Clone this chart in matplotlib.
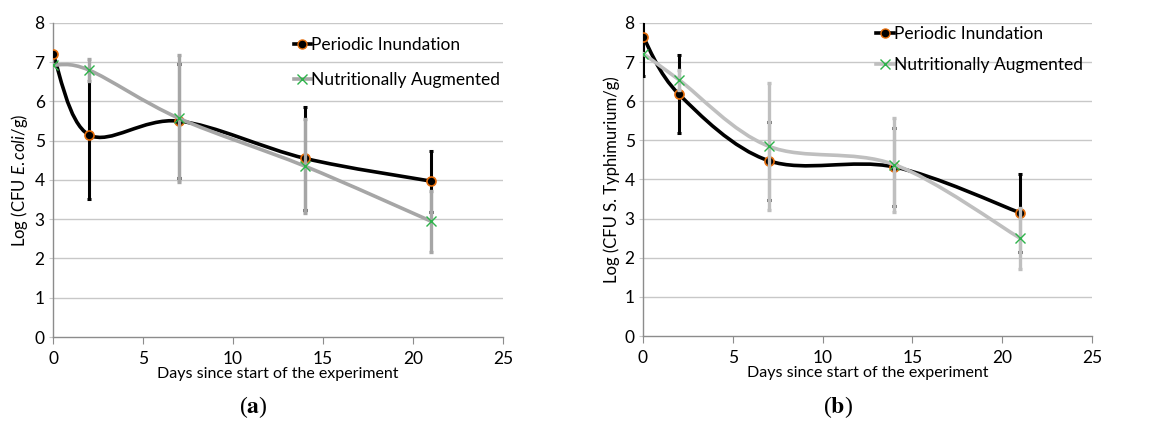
import numpy as np
import matplotlib
matplotlib.use("Agg")
import matplotlib.pyplot as plt
from matplotlib.path import Path
from matplotlib.patches import PathPatch
from matplotlib.lines import Line2D

plt.rcParams['font.family'] = ['Lato', 'DejaVu Sans']
plt.rcParams['mathtext.fontset'] = 'custom'
plt.rcParams['mathtext.rm'] = 'Lato'
plt.rcParams['mathtext.it'] = 'Lato:italic'

days = [0, 2, 7, 14, 21]

# panel (a) E. coli
ecoli_pi = [7.2, 5.15, 5.5, 4.55, 3.97]
ecoli_pi_err = [0.0, 1.63, 1.45, 1.32, 0.78]
ecoli_na = [6.93, 6.8, 5.57, 4.35, 2.95]
ecoli_na_err = [0.0, 0.27, 1.62, 1.2, 0.78]

# panel (b) S. Typhimurium
salm_pi = [7.65, 6.18, 4.48, 4.32, 3.15]
salm_pi_err = [1.0, 1.0, 1.0, 1.0, 1.0]
salm_na = [7.22, 6.55, 4.85, 4.38, 2.5]
salm_na_err = [0.0, 0.25, 1.62, 1.2, 0.78]

labels = ['Periodic Inundation', 'Nutritionally Augmented']


def smooth_path(x, y):
    # Excel-like smoothed line: Catmull-Rom converted to cubic Bezier
    pts = np.column_stack([x, y]).astype(float)
    ext = np.vstack([pts[0], pts, pts[-1]])
    verts = [pts[0]]
    codes = [Path.MOVETO]
    for i in range(len(pts) - 1):
        p0, p1, p2, p3 = ext[i], ext[i + 1], ext[i + 2], ext[i + 3]
        verts += [p1 + (p2 - p0) / 6, p2 - (p3 - p1) / 6, p2]
        codes += [Path.CURVE4] * 3
    return Path(verts, codes)


def draw_panel(ax, pi, pi_err, na, na_err, na_color, ylabel):
    for yv in range(1, 9):
        ax.axhline(yv, color='#C8C8C8', lw=1.0, zorder=0)

    ax.add_patch(PathPatch(smooth_path(days, pi), fill=False, edgecolor='black',
                           lw=2.6, zorder=2, capstyle='round'))
    ax.errorbar(days, pi, yerr=pi_err, fmt='none', ecolor='black', elinewidth=2.2,
                capsize=1.5, capthick=2.2, zorder=3)
    ax.plot(days, pi, 'o', ms=6.5, mfc='black', mec='#E46C0A', mew=1.2, zorder=4)

    ax.add_patch(PathPatch(smooth_path(days, na), fill=False, edgecolor=na_color,
                           lw=2.6, zorder=5, capstyle='round'))
    ax.errorbar(days, na, yerr=na_err, fmt='none', ecolor=na_color, elinewidth=2.4,
                capsize=1.5, capthick=2.4, zorder=6)
    ax.plot(days, na, 'x', ms=6.5, color='#2DB34A', mew=1.0, zorder=7)

    ax.set_xlim(0, 25)
    ax.set_ylim(0, 8)
    ax.set_xticks([0, 5, 10, 15, 20, 25])
    ax.set_yticks(range(0, 9))
    for s in ['top', 'right']:
        ax.spines[s].set_visible(False)
    for s in ['left', 'bottom']:
        ax.spines[s].set_color('#8C8C8C')
        ax.spines[s].set_linewidth(1.0)
    ax.tick_params(axis='x', direction='out', length=5, color='#8C8C8C', labelsize=12.5, pad=5)
    ax.tick_params(axis='y', direction='out', length=3, color='#C8C8C8', labelsize=12.5, pad=3)
    ax.set_xlabel('Days since start of the experiment', fontsize=11.5, labelpad=0)
    ax.set_ylabel(ylabel, fontsize=12, labelpad=3)

    handles = [
        Line2D([], [], color='black', lw=2.6, marker='o', ms=6.5, mfc='black', mec='#E46C0A'),
        Line2D([], [], color=na_color, lw=2.6, marker='x', ms=6.5, mec='#2DB34A', mew=1.0),
    ]
    return handles


fig = plt.figure(figsize=(11.6, 4.21), dpi=100)
ax1 = fig.add_axes([0.0457, 0.1995, 0.388, 0.746])
ax2 = fig.add_axes([0.5543, 0.2019, 0.387, 0.7435])

h1 = draw_panel(ax1, ecoli_pi, ecoli_pi_err, ecoli_na, ecoli_na_err, '#A6A6A6',
                r'Log (CFU $\mathit{E.coli}$/g)')
ax1.legend(h1, labels, loc='upper left', bbox_to_anchor=(0.535, 0.955), frameon=False,
           handlelength=1.0, handletextpad=0.0, labelspacing=1.1, fontsize=12.5,
           borderpad=0, borderaxespad=0)

h2 = draw_panel(ax2, salm_pi, salm_pi_err, salm_na, salm_na_err, '#BFBFBF',
                'Log (CFU S. Typhimurium/g)')
ax2.legend(h2, labels, loc='upper left', bbox_to_anchor=(0.52, 0.99), frameon=False,
           handlelength=1.0, handletextpad=0.0, labelspacing=0.85, fontsize=12.5,
           borderpad=0, borderaxespad=0)

fig.text(0.218, 0.033, r'($\mathbf{a}$)', fontsize=17, ha='center', va='center',
         family='Liberation Serif', math_fontfamily='stix')
fig.text(0.722, 0.033, r'($\mathbf{b}$)', fontsize=17, ha='center', va='center',
         family='Liberation Serif', math_fontfamily='stix')

fig.savefig('out.png', dpi=100)
